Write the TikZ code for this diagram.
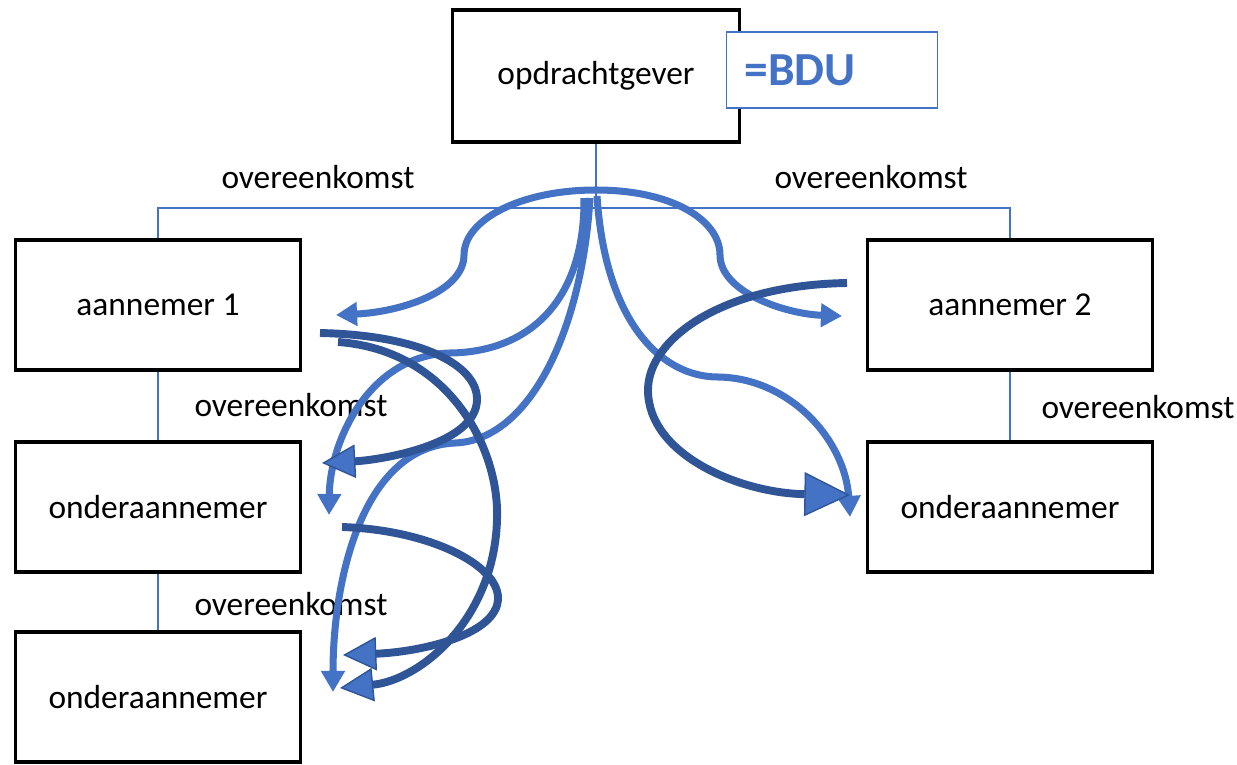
\documentclass[tikz,border=0pt]{standalone}
\usepackage{fontspec}
\setmainfont{Carlito}
\usetikzlibrary{arrows.meta}
\definecolor{officeblue}{RGB}{68,114,196}
\definecolor{darkblue}{RGB}{47,85,151}
\begin{document}
\begin{tikzpicture}[x=0.02cm,y=-0.02cm,
box/.style={draw=black,line width=2.2pt,fill=white,minimum width=5.7cm,minimum height=2.6cm,font=\fontsize{19}{22}\selectfont},
bdubox/.style={draw=officeblue,line width=0.8pt,fill=white,minimum height=1.52cm,inner xsep=0.36cm,text width=3.5cm,align=left,text=officeblue,font=\fontsize{27}{30}\selectfont\bfseries},
textlabel/.style={font=\fontsize{19}{22}\selectfont},
link/.style={draw=officeblue,line width=0.8pt},
flow/.style={draw=officeblue,line width=4pt,-{Triangle[length=12pt,width=13pt]}},
loop/.style={draw=darkblue,line width=4.5pt,-{Triangle[length=19pt,width=19pt,fill=officeblue,line width=0.8pt]}}]
\useasboundingbox (0,0) rectangle (1237,764);
\node (opdr) at (596,76) [box,minimum width=5.74cm,minimum height=2.64cm] {opdrachtgever};
\node (bdu) at (832,70) [bdubox] {=BDU};
\node (aan1) at (158,305) [box] {aannemer 1};
\node (sub1) at (158,507) [box] {onderaannemer};
\node (sub2) at (158,697) [box] {onderaannemer};
\node (aan2) at (1010,305) [box] {aannemer 2};
\node (sub3) at (1010,507) [box] {onderaannemer};
\coordinate (split) at (596,208);
\draw[link] (opdr.south) -- (split);
\draw[link] (aan1.north) |- (split) -| (aan2.north);
\draw[link] (aan1.south) -- (sub1.north);
\draw[link] (sub1.south) -- (sub2.north);
\draw[link] (aan2.south) -- (sub3.north);
\node (ovtl) at (318,177) [textlabel] {overeenkomst};
\node (ovtr) at (871,177) [textlabel] {overeenkomst};
\node (ovl1) at (291,405) [textlabel] {overeenkomst};
\node (ovl2) at (291,604) [textlabel] {overeenkomst};
\node (ovr) at (1138,407) [textlabel] {overeenkomst};
\coordinate (hub) at (596,190);
\coordinate (stemA) at (584,198);
\coordinate (stemB) at (590,198);
\coordinate (stemC) at (597,196);
\coordinate (tipaan1) at (336,315);
\coordinate (tipaan2) at (842,316);
\coordinate (tipsub1) at (329,515);
\coordinate (tipsub2) at (333,692);
\coordinate (tipsub3) at (850,517);
\draw[flow] (hub) .. controls (520,190) and (464,220) .. (464,255) .. controls (464,292) and (400,312) .. (tipaan1);
\draw[flow] (hub) .. controls (672,190) and (720,220) .. (720,255) .. controls (720,292) and (785,314) .. (tipaan2);
\draw[flow] (stemA) .. controls (585,300) and (530,352) .. (450,353) .. controls (370,355) and (330,440) .. (tipsub1);
\draw[flow] (stemB) .. controls (582,330) and (530,440) .. (455,443) .. controls (362,447) and (333,580) .. (tipsub2);
\draw[flow] (stemC) .. controls (605,320) and (660,377) .. (718,377) .. controls (790,378) and (845,440) .. (tipsub3);
\coordinate (tailA) at (320,333);
\coordinate (tailB) at (338,342);
\coordinate (tailC) at (342,527);
\coordinate (tailD) at (847,283);
\draw[loop] (tailA) .. controls (420,335) and (478,365) .. (477,400) .. controls (476,445) and (380,460) .. (322,463);
\draw[loop] (tailB) .. controls (450,350) and (500,450) .. (497,520) .. controls (494,620) and (420,680) .. (340,688);
\draw[loop] (tailC) .. controls (430,530) and (498,565) .. (498,598) .. controls (498,635) and (420,652) .. (343,655);
\draw[loop,-{Triangle[length=26pt,width=25pt,fill=officeblue,line width=0.8pt]}] (tailD) .. controls (720,285) and (648,340) .. (648,390) .. controls (648,455) and (740,493) .. (850,495);
\end{tikzpicture}
\end{document}
